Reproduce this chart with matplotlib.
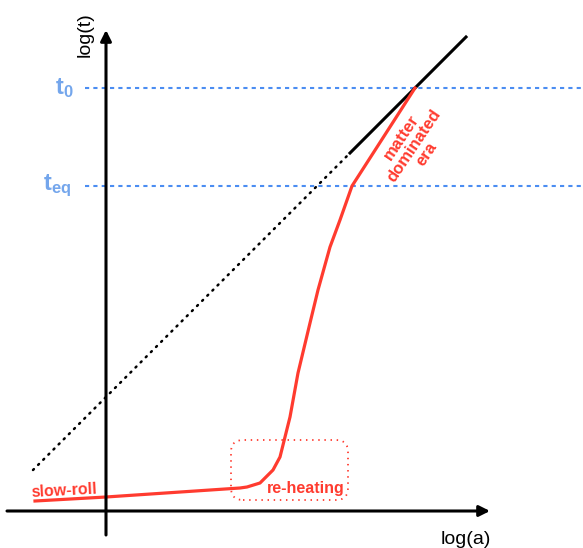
import matplotlib.pyplot as plt
from matplotlib.patches import FancyBboxPatch

plt.rcParams['font.family'] = ['Liberation Sans', 'DejaVu Sans']
plt.rcParams['mathtext.fontset'] = 'custom'
plt.rcParams['mathtext.bf'] = 'Liberation Sans:bold'
plt.rcParams['mathtext.rm'] = 'Liberation Sans:bold'
plt.rcParams['mathtext.default'] = 'bf'

# red curve: log(a), log(t)
curve_x = [-71, 0, 134, 141, 154, 167, 174, 184, 192, 204, 212, 224, 234, 246, 309]
curve_y = [10, 14, 23, 24, 28, 41, 54, 94, 138, 188, 221, 264, 291, 325, 423]

# extrapolated matter line (dotted part and solid part)
dotted_x = [-73, 244]
dotted_y = [41, 358]
solid_x = [244, 360]
solid_y = [358, 474]

# horizontal reference times
t_levels = [423, 325]
t_labels = ['$t_0$', '$t_{eq}$']
t_label_x = [-42, -49]

red = '#ff3b2f'
blue = '#4b8df2'
lblue = '#74a6ec'

fig = plt.figure(figsize=(5.83, 5.48), dpi=100)
ax = fig.add_axes([0, 0, 1, 1])
ax.set_xlim(-106, 477)
ax.set_ylim(-37, 511)
ax.axis('off')

# axes with arrows
ax.annotate('', xy=(384, 0), xytext=(-99, 0),
            arrowprops=dict(arrowstyle='-|>', lw=2.2, color='k', mutation_scale=16,
                            shrinkA=0, shrinkB=0))
ax.annotate('', xy=(0, 481), xytext=(0, -24),
            arrowprops=dict(arrowstyle='-|>', lw=2.2, color='k', mutation_scale=16,
                            shrinkA=0, shrinkB=0))
ax.text(-21, 476, 'log(t)', rotation=90, fontsize=14, ha='center', va='center')
ax.text(360, -29, 'log(a)', fontsize=14, ha='center', va='center')

# t0, teq dashed lines
for lev, lab, lx in zip(t_levels, t_labels, t_label_x):
    ax.plot([-21, 477], [lev, lev], color=blue, lw=1.5, ls=(0, (2, 2)))
    ax.text(lx, lev, lab, color=lblue, fontsize=17, ha='center', va='center')

ax.plot(dotted_x, dotted_y, color='k', lw=1.8, ls=(0, (0.5, 2.4)),
        dash_capstyle='round')
ax.plot(solid_x, solid_y, color='k', lw=2.2)
ax.plot(curve_x, curve_y, color=red, lw=2.3)

# re-heating box
box = FancyBboxPatch((125, 11), 117, 60, boxstyle='round,pad=0,rounding_size=12',
                     fill=False, ec=red, lw=1.3, ls=(0, (0.8, 2.6)))
ax.add_patch(box)

ax.text(200, 23, 're-heating', color=red, fontsize=11.5, fontweight='bold',
        ha='center', va='center')
ax.text(-42, 20, 'slow-roll', color=red, fontsize=11.5, fontweight='bold',
        ha='center', va='center', rotation=3)
ax.text(308, 365, 'matter\ndominated\nera', color=red, fontsize=12,
        fontweight='bold', ha='center', va='center', rotation=56,
        multialignment='center', linespacing=1.0)

fig.savefig('out.png', dpi=100)
